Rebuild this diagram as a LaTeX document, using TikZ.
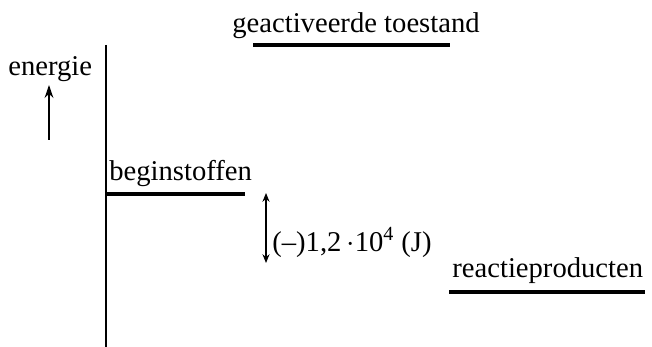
\documentclass[tikz,border=0pt]{standalone}
\usepackage{fontspec}
\setmainfont{Liberation Serif}
\usetikzlibrary{arrows.meta, positioning}

\begin{document}
\begin{tikzpicture}[x=0.02cm, y=-0.02cm,
  level/.style={line width=1.8pt},
  label/.style={anchor=base west, inner sep=0pt, font=\fontsize{16.3}{19}\selectfont},
  pijl/.style={line width=1.1pt, -{Stealth[length=7.4pt, width=5pt]}},
  dpijl/.style={line width=0.6pt, {Stealth[length=5pt, width=4pt]}-{Stealth[length=5pt, width=4pt]}}]

  \useasboundingbox (0,0) rectangle (652,347);

  % as
  \coordinate (astop) at (106,45);
  \coordinate (asbodem) at (106,347);
  \draw [line width=1.3pt] (astop) -- (asbodem);

  \node [label] (energie) at (8,76) {energie};
  \coordinate (epijlo) at (49,140);
  \coordinate (epijlb) at (49,85);
  \draw [pijl] (epijlo) -- (epijlb);

  % niveaus
  \coordinate (gt1) at (253,45);
  \coordinate (gt2) at (450,45);
  \draw [level] (gt1) -- (gt2);
  \node [label] (geact) at (232,33) {geactiveerde toestand};

  \coordinate (bs1) at (106,194);
  \coordinate (bs2) at (245,194);
  \draw [level] (bs1) -- (bs2);
  \node [label] (begin) at (109,181) {beginstoffen};

  \coordinate (rp1) at (449,292);
  \coordinate (rp2) at (645,292);
  \draw [level] (rp1) -- (rp2);
  \node [label] (reactie) at (452,278) {reactieproducten};

  % energieverschil
  \coordinate (dh1) at (266,193);
  \coordinate (dh2) at (266,263);
  \draw [dpijl] (dh1) -- (dh2);
  \node [label] (dh) at (272,252) {(--)1,2\,$\cdot$10\textsuperscript{4} (J)};
\end{tikzpicture}
\end{document}
